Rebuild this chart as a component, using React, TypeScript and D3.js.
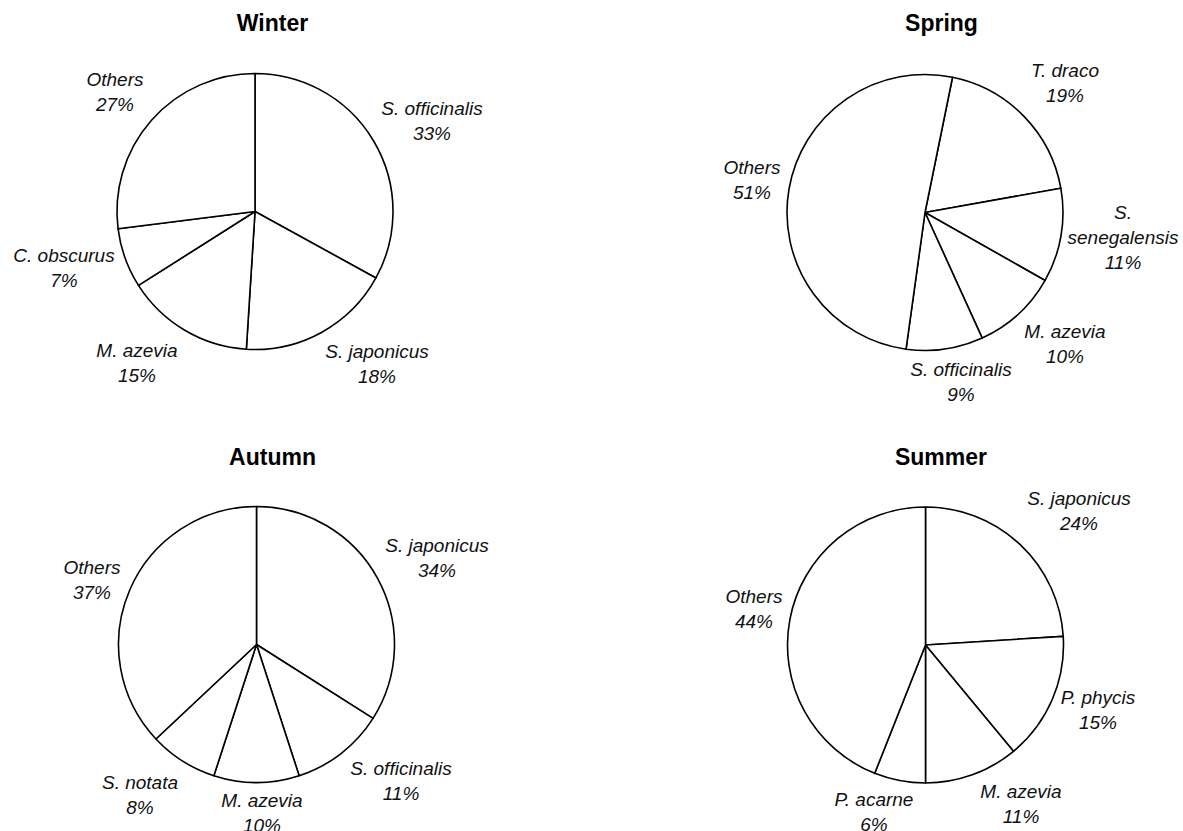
import React from 'react';
import * as d3 from 'd3';

// ---- data ----
const seasons = ['Winter', 'Spring', 'Autumn', 'Summer'];

const winterSpecies = ['S. officinalis', 'S. japonicus', 'M. azevia', 'C. obscurus', 'Others'];
const winterValues = [33, 18, 15, 7, 27];

const springSpecies = ['T. draco', 'S. senegalensis', 'M. azevia', 'S. officinalis', 'Others'];
const springValues = [19, 11, 10, 9, 51];

const autumnSpecies = ['S. japonicus', 'S. officinalis', 'M. azevia', 'S. notata', 'Others'];
const autumnValues = [34, 11, 10, 8, 37];

const summerSpecies = ['S. japonicus', 'P. phycis', 'M. azevia', 'P. acarne', 'Others'];
const summerValues = [24, 15, 11, 6, 44];

const speciesBySeason = [winterSpecies, springSpecies, autumnSpecies, summerSpecies];
const valuesBySeason = [winterValues, springValues, autumnValues, summerValues];

// ---- layout (positions / styles) ----
const W = 1183;
const H = 831;
const RADIUS = 138;
const LINE = 25;

type Panel = {
  cx: number; cy: number; titleX: number; titleY: number; start: number;
  labels: { x: number; y: number; wrap?: boolean }[];
};

const panels: Panel[] = [
  {
    cx: 255, cy: 211.5, titleX: 272.5, titleY: 31, start: 0,
    labels: [
      { x: 432, y: 115 }, { x: 377, y: 358 }, { x: 137, y: 357 }, { x: 64, y: 262 }, { x: 115, y: 86 },
    ],
  },
  {
    cx: 925, cy: 212.5, titleX: 941.5, titleY: 31, start: 11.5,
    labels: [
      { x: 1065, y: 77 }, { x: 1123, y: 219, wrap: true }, { x: 1065, y: 338 }, { x: 961, y: 376 }, { x: 752, y: 174 },
    ],
  },
  {
    cx: 256.5, cy: 644.5, titleX: 272.5, titleY: 465, start: 0,
    labels: [
      { x: 437, y: 552 }, { x: 401, y: 775 }, { x: 262, y: 807 }, { x: 140, y: 789 }, { x: 92, y: 574 },
    ],
  },
  {
    cx: 925.5, cy: 645, titleX: 941, titleY: 465, start: 0,
    labels: [
      { x: 1079, y: 505 }, { x: 1098, y: 704 }, { x: 1021, y: 798 }, { x: 874, y: 806 }, { x: 754, y: 603 },
    ],
  },
];

const FONT = "Arial, 'Liberation Sans', Helvetica, sans-serif";

function PieChart({ idx }: { idx: number }) {
  const p = panels[idx];
  const values = valuesBySeason[idx];
  const names = speciesBySeason[idx];
  const startRad = (p.start * Math.PI) / 180;
  const pie = d3
    .pie<number>()
    .sort(null)
    .value((d) => d)
    .startAngle(startRad)
    .endAngle(startRad + 2 * Math.PI);
  const arcs = pie(values);
  const arc = d3.arc<d3.PieArcDatum<number>>().innerRadius(0).outerRadius(RADIUS);

  return (
    <g>
      <text
        x={p.titleX}
        y={p.titleY}
        textAnchor="middle"
        fontFamily={FONT}
        fontWeight="bold"
        fontSize={23}
        fill="#000"
      >
        {seasons[idx]}
      </text>
      <g transform={`translate(${p.cx},${p.cy})`}>
        {arcs.map((a, i) => (
          <path
            key={i}
            d={arc(a) || ''}
            fill="#fff"
            stroke="#000"
            strokeWidth={1.6}
            strokeLinejoin="round"
          />
        ))}
      </g>
      {arcs.map((a, i) => {
        const lab = p.labels[i];
        const name = names[i];
        const lines = lab.wrap ? name.split(' ') : [name];
        lines.push(`${values[i]}%`);
        return (
          <text
            key={'l' + i}
            x={lab.x}
            y={lab.y}
            textAnchor="middle"
            fontFamily={FONT}
            fontStyle="italic"
            fontSize={19}
            fill="#111"
          >
            {lines.map((t, j) => (
              <tspan key={j} x={lab.x} y={lab.y + j * LINE}>
                {t}
              </tspan>
            ))}
          </text>
        );
      })}
    </g>
  );
}

export default function App() {
  return (
    <svg
      width={W}
      height={H}
      viewBox={`0 0 ${W} ${H}`}
      style={{ position: 'absolute', left: 0, top: 0, background: '#fff' }}
    >
      <rect x={0} y={0} width={W} height={H} fill="#fff" />
      {seasons.map((s, i) => (
        <PieChart key={s} idx={i} />
      ))}
    </svg>
  );
}
